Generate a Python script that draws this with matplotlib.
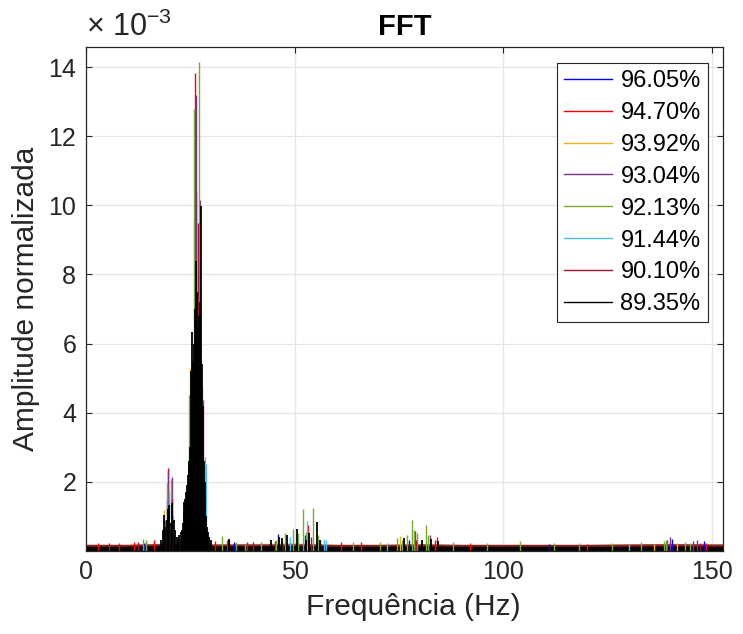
import numpy as np
import matplotlib
matplotlib.use("Agg")
import matplotlib.pyplot as plt
from matplotlib.ticker import FuncFormatter

plt.rcParams['font.family'] = ['Liberation Sans', 'DejaVu Sans']
plt.rcParams['mathtext.fontset'] = 'custom'
plt.rcParams['mathtext.rm'] = 'Liberation Sans'
plt.rcParams['mathtext.it'] = 'Liberation Sans:italic'
plt.rcParams['mathtext.bf'] = 'Liberation Sans:bold'

# ---------------- data (amplitudes in units of 1e-3) ----------------
labels = ['96.05%', '94.70%', '93.92%', '93.04%', '92.13%', '91.44%', '90.10%', '89.35%']
colors = ['#0000ff', '#ff0000', '#edb120', '#7e2f8e', '#77ac30', '#4dbeee', '#a2142f', '#000000']

floor_f = [0, 10, 20, 30, 40, 50, 60, 70, 80, 90, 100, 110, 120, 130, 140, 150, 153]
floor_blue   = [0.16, 0.16, 0.18, 0.17, 0.17, 0.18, 0.16, 0.16, 0.17, 0.16, 0.16, 0.16, 0.16, 0.17, 0.18, 0.17, 0.17]
floor_red    = [0.18, 0.18, 0.20, 0.18, 0.19, 0.20, 0.17, 0.17, 0.19, 0.17, 0.17, 0.17, 0.17, 0.18, 0.19, 0.18, 0.18]
floor_orange = [0.16, 0.16, 0.19, 0.17, 0.17, 0.18, 0.16, 0.16, 0.18, 0.16, 0.16, 0.16, 0.16, 0.17, 0.18, 0.17, 0.17]
floor_purple = [0.16, 0.16, 0.19, 0.17, 0.17, 0.18, 0.16, 0.16, 0.18, 0.16, 0.16, 0.16, 0.16, 0.17, 0.19, 0.18, 0.18]
floor_green  = [0.19, 0.19, 0.22, 0.20, 0.21, 0.22, 0.19, 0.19, 0.21, 0.19, 0.19, 0.19, 0.19, 0.20, 0.21, 0.20, 0.20]
floor_cyan   = [0.17, 0.17, 0.20, 0.18, 0.19, 0.20, 0.17, 0.17, 0.18, 0.17, 0.17, 0.17, 0.17, 0.18, 0.19, 0.18, 0.18]
floor_dred   = [0.18, 0.18, 0.21, 0.19, 0.19, 0.20, 0.18, 0.18, 0.19, 0.18, 0.18, 0.18, 0.18, 0.19, 0.20, 0.19, 0.19]
floor_black  = [0.13, 0.13, 0.16, 0.14, 0.14, 0.15, 0.13, 0.13, 0.14, 0.13, 0.13, 0.13, 0.13, 0.13, 0.14, 0.13, 0.13]

f_blue = [13.9, 19.5, 24.7, 26.1, 27.9, 35.5, 46.0, 52.5, 77.5, 111.0, 140.3, 148.0]
a_blue = [0.22, 1.50, 2.50, 11.5, 4.39, 0.25, 0.49, 0.45, 0.30, 0.20, 0.33, 0.29]

f_red = [3.0, 8.0, 11.5, 14.5, 16.2, 18.9, 19.6, 20.5, 24.0, 25.5, 26.19, 26.36, 27.1, 28.0, 31.0, 34.2, 38.5,
         45.2, 53.1, 56.0, 61.0, 66.0, 78.7, 83.5, 84.1, 92.0, 120.0, 148.5]
a_red = [0.22, 0.22, 0.24, 0.25, 0.30, 0.90, 2.40, 1.00, 1.20, 4.00, 13.85, 10.43, 6.00, 4.36, 0.28, 0.30, 0.25,
         0.28, 0.75, 0.30, 0.24, 0.24, 0.58, 0.30, 0.41, 0.22, 0.20, 0.22]

f_orange = [18.7, 19.5, 24.9, 26.0, 47.0, 75.3, 136.0, 141.5]
a_orange = [1.19, 1.30, 5.29, 8.00, 0.30, 0.43, 0.20, 0.22]

f_purple = [19.6, 20.5, 24.5, 26.3, 27.39, 33.9, 82.3, 139.3, 139.9, 145.5, 146.3]
a_purple = [2.30, 2.14, 2.00, 13.2, 10.15, 0.30, 0.46, 0.30, 0.39, 0.28, 0.32]

f_green = [13.7, 14.3, 18.6, 19.3, 20.3, 21.0, 22.3, 23.3, 24.2, 24.8, 25.7, 25.95, 27.08, 29.5,
           32.5, 36.0, 38.0, 42.0, 45.5, 47.6, 49.6, 50.9, 52.0, 52.6, 54.4, 55.7, 64.0, 70.5, 74.5,
           75.8, 77.0, 78.1, 78.6, 79.3, 81.5, 82.0, 88.0, 96.0, 103.9, 112.0, 118.0, 126.0, 133.0,
           138.4, 139.0, 143.5, 144.8]
a_green = [0.35, 0.30, 0.80, 1.97, 2.08, 0.60, 0.35, 0.70, 1.00, 4.51, 3.50, 12.78, 14.16, 0.30,
           0.43, 0.26, 0.20, 0.25, 0.30, 0.52, 0.64, 0.50, 1.20, 0.55, 1.24, 0.45, 0.24, 0.26, 0.38,
           0.30, 0.45, 0.88, 0.60, 0.50, 0.75, 0.45, 0.24, 0.23, 0.28, 0.22, 0.23, 0.22, 0.24,
           0.28, 0.30, 0.26, 0.22]

f_cyan = [19.8, 20.8, 24.6, 27.9, 28.5, 28.7, 48.9, 52.9, 56.9, 57.5, 72.0, 130.0]
a_cyan = [1.68, 1.00, 2.80, 4.74, 2.72, 2.50, 0.40, 0.87, 0.35, 0.30, 0.22, 0.20]

f_dred = [5.5, 12.5, 19.7, 20.6, 25.0, 26.8, 27.3, 40.0, 54.0, 79.0, 147.0]
a_dred = [0.23, 0.24, 1.30, 1.50, 3.00, 9.50, 6.00, 0.25, 0.40, 0.30, 0.22]

f_black = [18.0, 18.4, 18.7, 19.0, 19.3, 19.7, 20.0, 20.3, 20.7, 21.0, 21.3, 21.7, 22.0, 22.4, 22.7,
           23.0, 23.2, 23.4, 23.6, 23.8, 24.0, 24.2, 24.4, 24.6, 24.8, 25.0, 25.2, 25.3, 25.4, 25.6,
           25.8, 26.0, 26.2, 26.4, 26.6, 26.8, 27.0, 27.2, 27.4, 27.56, 27.8, 28.0, 28.2, 28.4, 28.6,
           28.8, 29.0, 29.2, 29.4, 30.0, 34.3, 44.4, 46.3, 47.0, 48.2, 50.5, 52.8, 53.5, 55.3, 56.1,
           76.1, 80.5, 82.6, 84.4]
a_black = [0.30, 0.60, 1.04, 0.70, 0.90, 1.20, 1.33, 0.80, 1.39, 0.90, 0.60, 0.40, 0.35, 0.45, 0.55,
           0.60, 0.80, 1.10, 1.40, 1.50, 1.70, 1.90, 2.20, 2.40, 2.60, 3.00, 5.20, 6.33, 4.80, 5.50,
           6.00, 5.60, 7.00, 8.40, 7.50, 6.20, 6.80, 7.20, 6.50, 9.97, 5.40, 4.20, 2.60, 2.00, 1.40,
           1.00, 0.70, 0.55, 0.40, 0.30, 0.35, 0.32, 0.41, 0.38, 0.46, 0.64, 0.32, 0.52, 0.84, 0.30,
           0.38, 0.30, 0.35, 0.28]

series_f = [f_blue, f_red, f_orange, f_purple, f_green, f_cyan, f_dred, f_black]
series_a = [a_blue, a_red, a_orange, a_purple, a_green, a_cyan, a_dred, a_black]
series_floor = [floor_blue, floor_red, floor_orange, floor_purple, floor_green, floor_cyan, floor_dred, floor_black]

scale = 1e-3

# ---------------- figure ----------------
fig = plt.figure(figsize=(7.43, 6.34), dpi=100)
ax = fig.add_axes([0.1157, 0.1314, 0.8574, 0.7940])

for fl, fs, am, col, lab in zip(series_floor, series_f, series_a, colors, labels):
    lw = 1.3 if col == '#000000' else 1.0
    ax.fill_between(floor_f, 0, np.array(fl) * scale, color=col, linewidth=0)
    ax.vlines(fs, 0, np.array(am) * scale, colors=col, linewidth=lw)
    ax.plot([], [], color=col, linewidth=1.0, label=lab)

ax.set_xlim(0, 152.6)
ax.set_ylim(0, 14.58e-3)
ax.set_xticks([0, 50, 100, 150])
ax.set_yticks(np.arange(2, 15, 2) * scale)
ax.yaxis.set_major_formatter(FuncFormatter(lambda v, p: '%g' % round(v / scale, 6)))

ax.grid(True, color='#e6e6e6', linewidth=0.9)
ax.set_axisbelow(True)
ax.tick_params(direction='in', length=4.5, width=0.8, top=True, right=True,
               labelsize=18, colors='#262626', pad=7)
for sp in ax.spines.values():
    sp.set_color('#262626')
    sp.set_linewidth(0.9)

ax.set_xlabel('Frequência (Hz)', fontsize=21.5, color='#262626', labelpad=5)
ax.xaxis.set_label_coords(0.514, -0.085)
ax.set_ylabel('Amplitude normalizada', fontsize=21.5, color='#262626', labelpad=6)
ax.set_title('FFT', fontsize=21, fontweight='bold', color='black', pad=9)
ax.text(0.0, 1.008, r'$\times\ 10^{-3}$', transform=ax.transAxes, fontsize=22,
        color='#262626', ha='left', va='bottom')

leg = ax.legend(loc='upper right', bbox_to_anchor=(0.976, 0.969), borderaxespad=0,
                fontsize=17, handlelength=2.05, handletextpad=0.35, labelspacing=0.42,
                fancybox=False, framealpha=1, edgecolor='#262626', borderpad=0.3)
leg.get_frame().set_linewidth(0.8)

fig.savefig('out.png', dpi=100)
